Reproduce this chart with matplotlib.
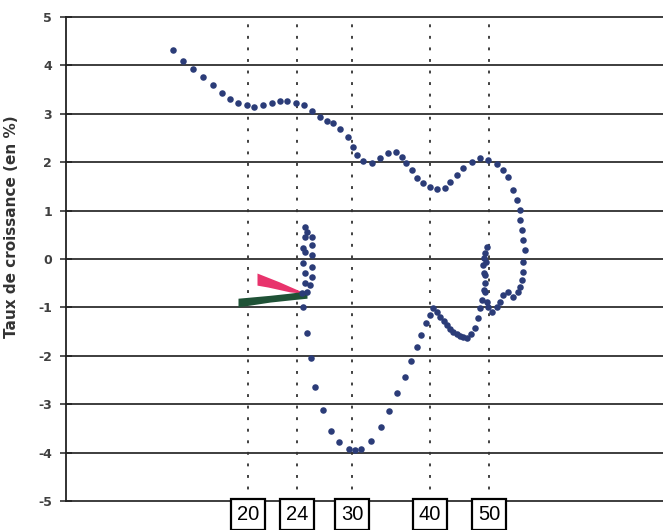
import numpy as np
import matplotlib
matplotlib.use("Agg")
import matplotlib.pyplot as plt

# trajectory of the growth rate (x: position along the horizontal scale, no units shown)
traj_x = [10.7, 11.7, 12.7, 13.7, 14.7, 15.6, 16.4, 17.2, 18.1, 18.8,
          19.7, 20.6, 21.4, 22.1, 23.0, 23.8, 24.6, 25.4, 26.1, 26.7,
          27.4, 28.2, 28.7, 29.1, 29.7, 30.6, 31.4, 32.2, 33.0, 33.6,
          34.0, 34.6, 35.1, 35.7, 36.4, 37.1, 37.9, 38.4, 39.1, 39.7,
          40.6, 41.4, 42.2, 43.1, 43.7, 44.2, 44.7, 45.1, 45.4, 45.4,
          45.6, 45.7, 45.9, 45.7, 45.7, 45.6, 45.4, 45.2, 44.7, 44.2,
          43.7, 43.4, 43.1, 42.6, 42.2, 42.1, 41.9, 41.9, 41.8, 41.7,
          41.8, 41.9, 42.1, 42.0, 41.9, 41.8, 41.6, 41.4, 41.2, 40.9,
          40.5, 40.1, 39.7, 39.4, 39.1, 38.7, 38.4, 38.1, 37.8, 37.4,
          37.1, 36.7, 36.4, 36.0, 35.5, 35.1, 34.5, 33.9, 33.1, 32.3,
          31.5, 30.5, 29.5, 28.9, 28.3, 27.3, 26.5, 25.7, 24.9, 24.5,
          24.1, 23.7, 24.1, 24.4, 24.6, 24.6, 24.6, 24.6, 24.6, 24.1,
          23.9, 23.9, 23.7, 23.9, 23.7, 23.9, 23.9, 23.6]
traj_y = [4.31, 4.10, 3.93, 3.77, 3.60, 3.44, 3.31, 3.23, 3.19, 3.15,
          3.19, 3.23, 3.27, 3.27, 3.23, 3.19, 3.06, 2.94, 2.86, 2.80,
          2.69, 2.53, 2.32, 2.15, 2.03, 1.99, 2.09, 2.19, 2.22, 2.11,
          1.99, 1.84, 1.68, 1.57, 1.49, 1.45, 1.47, 1.59, 1.74, 1.88,
          2.01, 2.09, 2.05, 1.97, 1.84, 1.70, 1.43, 1.22, 1.01, 0.81,
          0.60, 0.39, 0.19, -0.06, -0.27, -0.43, -0.58, -0.68, -0.79, -0.68,
          -0.75, -0.89, -0.99, -1.10, -0.99, -0.89, -0.68, -0.50, -0.29, -0.12,
          0.02, 0.12, 0.25, -0.06, -0.33, -0.64, -0.85, -1.01, -1.22, -1.43,
          -1.55, -1.64, -1.61, -1.59, -1.55, -1.51, -1.45, -1.37, -1.28, -1.20,
          -1.10, -1.01, -1.16, -1.33, -1.57, -1.82, -2.11, -2.44, -2.77, -3.15,
          -3.48, -3.77, -3.93, -3.95, -3.93, -3.79, -3.56, -3.13, -2.65, -2.05,
          -1.53, -0.99, -0.68, -0.54, -0.37, -0.17, 0.08, 0.29, 0.46, 0.56,
          0.66, 0.46, 0.23, 0.14, -0.08, -0.29, -0.50, -0.70]

# red and green bands (upper / lower edges)
red_x = [19.1, 20.2, 21.3, 22.4, 23.4]
red_hi = [-0.29, -0.38, -0.47, -0.57, -0.66]
red_lo = [-0.54, -0.58, -0.63, -0.68, -0.70]

green_x = [17.2, 18.8, 20.4, 22.2, 24.1]
green_hi = [-0.81, -0.78, -0.75, -0.71, -0.66]
green_lo = [-0.99, -0.94, -0.89, -0.85, -0.81]

# boxed markers under the axis
mark_x = [18.2, 23.1, 28.6, 36.4, 42.3]
mark_labels = ["20", "24", "30", "40", "50"]

y_ticks = [5, 4, 3, 2, 1, 0, -1, -2, -3, -4, -5]

fig = plt.figure(figsize=(6.63, 5.30), dpi=100)
ax = fig.add_axes([66 / 663, 1 - 501 / 530, 1 - 66 / 663, 484 / 530])

ax.set_xlim(0, 59.7)
ax.set_ylim(-5, 5)

for t in y_ticks:
    ax.axhline(t, color="#2e2e2e", lw=1.3, zorder=1, clip_on=False)

for xv in mark_x:
    ax.axvline(xv, color="#333333", lw=1.3, linestyle=(0, (1.6, 4.8)), zorder=1)

ax.fill_between(red_x, red_lo, red_hi, color="#e8336c", lw=0, zorder=3)
ax.fill_between(green_x, green_lo, green_hi, color="#1f5236", lw=0, zorder=4)

ax.plot(traj_x, traj_y, "o", ms=4.7, color="#2b3c78", mec="none", zorder=5)

for xv, lab in zip(mark_x, mark_labels):
    ax.text(xv, -0.028, lab, transform=ax.get_xaxis_transform(),
            ha="center", va="center", fontsize=14.5, family="Liberation Sans",
            clip_on=False, zorder=6,
            bbox=dict(boxstyle="square,pad=0.3", fc="white", ec="black", lw=1.6))

for s in ["top", "right", "bottom"]:
    ax.spines[s].set_visible(False)
ax.spines["left"].set_linewidth(1.3)
ax.spines["left"].set_color("#222222")

ax.set_xticks([])
ax.set_yticks(y_ticks)
ax.set_yticklabels([str(t) for t in y_ticks], fontsize=9, fontweight="bold", color="#404040")
ax.tick_params(axis="y", length=8, width=1.1, color="#222222", direction="inout", pad=6)

ax.set_ylabel("Taux de croissance (en %)", fontsize=11, fontweight="bold", color="#333333")
ax.yaxis.set_label_coords(-0.078, 0.566)

fig.savefig("out.png", dpi=100)
